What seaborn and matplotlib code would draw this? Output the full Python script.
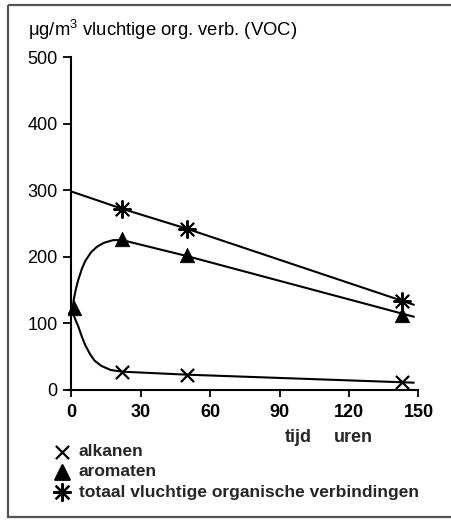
import matplotlib
matplotlib.use("Agg")
import matplotlib.pyplot as plt
import seaborn as sns
import pandas as pd
from matplotlib.patches import Rectangle

# ---- data ----
# traced curves (hours, µg/m3)
alk_line_t = [0.5, 1, 2, 3, 4.5, 6, 8, 10, 13, 17, 22, 50, 148]
alk_line_v = [123, 112, 103, 95, 80, 67, 54, 44, 36, 30, 27.5, 23, 11]
aro_line_t = [0.5, 1, 2, 3, 4.5, 6, 8.5, 11, 14, 18, 22, 50, 148]
aro_line_v = [123, 136, 153, 166, 182, 194, 207, 215, 221, 225, 225, 201, 110]
tot_line_t = [0, 22, 50, 148]
tot_line_v = [298, 272, 242, 128]
# measured points
alk_pts_t = [22, 50, 143]
alk_pts_v = [27.5, 23, 12.5]
aro_pts_t = [1, 22, 50, 143]
aro_pts_v = [123, 226, 202, 113]
tot_pts_t = [22, 50, 143]
tot_pts_v = [272, 242, 134]

x_ticks = [0, 30, 60, 90, 120, 150]
y_ticks = [0, 100, 200, 300, 400, 500]
legend_labels = ["alkanen", "aromaten", "totaal vluchtige organische verbindingen"]
title = "\u03bcg/m$^{3}$ vluchtige org. verb. (VOC)"

sns.set_theme(style="ticks")
plt.rcParams["font.family"] = ["Liberation Sans", "DejaVu Sans"]
plt.rcParams["mathtext.fontset"] = "custom"
plt.rcParams["mathtext.rm"] = "Liberation Sans"
plt.rcParams["mathtext.it"] = "Liberation Sans"

W, H = 452, 520
fig = plt.figure(figsize=(W / 100, H / 100), dpi=100)
fig.patch.set_facecolor("white")

def fx(px):
    return px / W

def fy(py):
    return (H - py) / H

ax = fig.add_axes([fx(68), fy(390), fx(418.5) - fx(68), fy(57) - fy(390)])

lw = 1.5
sns.lineplot(x=alk_line_t, y=alk_line_v, color="black", lw=lw, sort=False, estimator=None, ax=ax)
sns.lineplot(x=aro_line_t, y=aro_line_v, color="black", lw=lw, sort=False, estimator=None, ax=ax)
sns.lineplot(x=tot_line_t, y=tot_line_v, color="black", lw=lw, sort=False, estimator=None, ax=ax)

sns.scatterplot(x=alk_pts_t, y=alk_pts_v, marker="x", s=90, color="black", linewidth=1.6, ax=ax, zorder=3)
sns.scatterplot(x=aro_pts_t, y=aro_pts_v, marker="^", s=110, color="black", edgecolor="black", linewidth=0.5, ax=ax, zorder=3)
sns.scatterplot(x=tot_pts_t, y=tot_pts_v, marker=(8, 2, 0), s=150, color="black", edgecolor="black", linewidth=1.4, ax=ax, zorder=3)

ax.set_xlim(-1.5, 150)
ax.set_ylim(0, 500)
ax.spines["left"].set_position(("data", 0))
ax.spines["top"].set_visible(False)
ax.spines["right"].set_visible(False)
for s in ("left", "bottom"):
    ax.spines[s].set_linewidth(1.5)
    ax.spines[s].set_color("black")
ax.set_xticks(x_ticks)
ax.set_yticks(y_ticks)
ax.set_xticklabels([str(v) for v in x_ticks], fontsize=13, fontweight="bold")
ax.set_yticklabels([str(v) for v in y_ticks], fontsize=13)
ax.tick_params(axis="x", length=5, width=1.3, pad=5, colors="black")
ax.tick_params(axis="y", length=6, width=1.3, pad=4, colors="black")
ax.set_xlabel("")
ax.set_ylabel("")
ax.set_facecolor("white")

# title / axis labels
fig.text(fx(28), fy(36), title, fontsize=13.3, ha="left", va="baseline", color="black")
fig.text(fx(298), fy(437), "tijd", fontsize=13, fontweight="bold", ha="center", va="center")
fig.text(fx(353), fy(437), "uren", fontsize=13, fontweight="bold", ha="center", va="center")

# legend (drawn as keys + text)
lax = fig.add_axes([0, 0, 1, 1], facecolor="none")
lax.set_xlim(0, W)
lax.set_ylim(H, 0)
lax.axis("off")
key_y = [452, 472, 492]
markers = ["x", "^", (8, 2, 0)]
sizes = [90, 110, 150]
for mk, sz, ky, lab in zip(markers, sizes, key_y, legend_labels):
    sns.scatterplot(x=[61.7], y=[ky], marker=mk, s=sz, color="black", edgecolor="black",
                    linewidth=1.6, ax=lax, zorder=3)
    lax.text(79, ky, lab, fontsize=12.5, fontweight="bold", ha="left", va="center")

# outer frame of the scanned figure
lax.add_patch(Rectangle((8, 5), 470, 512, fill=False, edgecolor="#555555", lw=1.6))

fig.savefig("out.png", dpi=100, facecolor="white")
